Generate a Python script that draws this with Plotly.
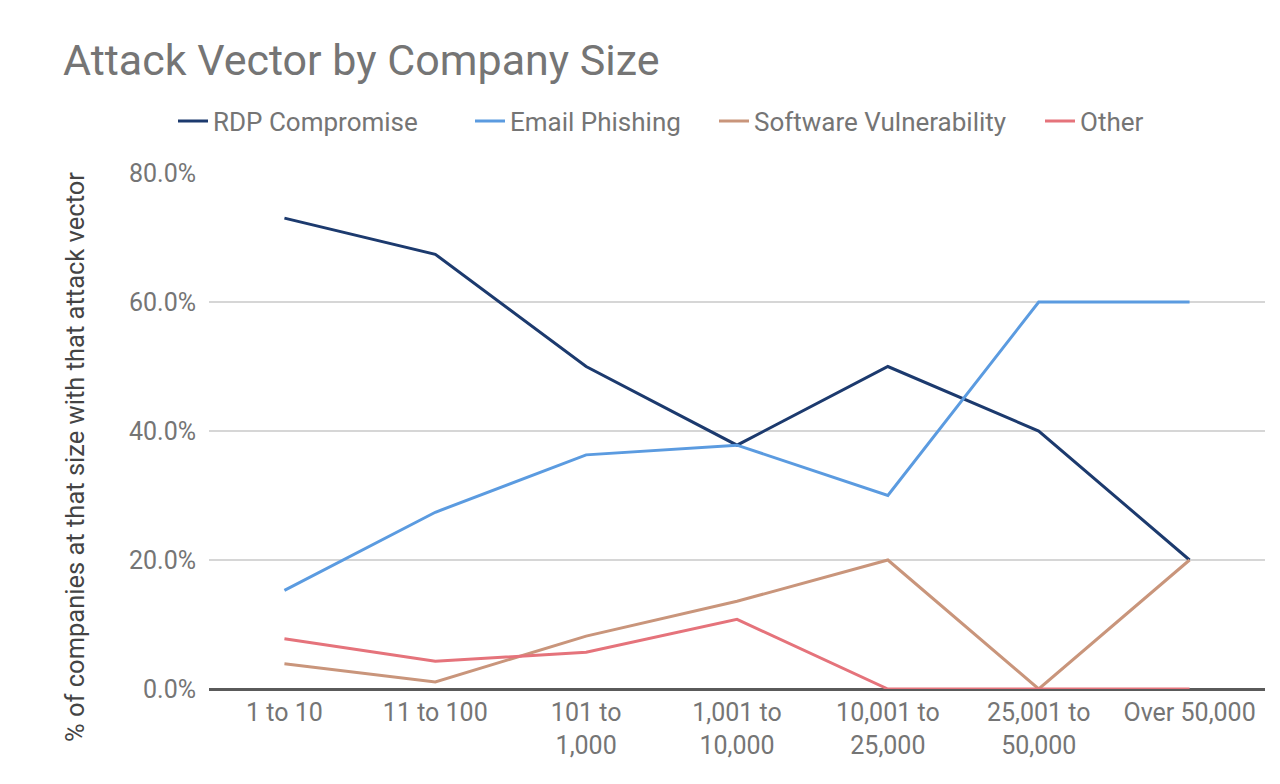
import plotly.graph_objects as go

categories = ["1 to 10", "11 to 100", "101 to<br>1,000", "1,001 to<br>10,000",
              "10,001 to<br>25,000", "25,001 to<br>50,000", "Over 50,000"]
rdp = [73.0, 67.4, 50.0, 37.8, 50.0, 40.0, 20.0]
email = [15.3, 27.4, 36.3, 37.8, 30.0, 60.0, 60.0]
software = [3.9, 1.1, 8.2, 13.6, 20.0, 0.0, 20.0]
other = [7.8, 4.3, 5.7, 10.8, 0.0, 0.0, 0.0]

series_names = ["RDP Compromise", "Email Phishing", "Software Vulnerability", "Other"]
series_values = [rdp, email, software, other]
colors = ["#1c3a6e", "#5b9be0", "#c9957b", "#e5737b"]
legend_ids = ["legend", "legend2", "legend3", "legend4"]
y_title = "% of companies at that size with that attack vector"

# page has an 8px body margin, so the figure is 16px smaller than the window
W, H = 1264, 768
OFF = 8
plot_left, plot_right, plot_top, plot_bottom = 209, 1265, 173, 689
pw = plot_right - plot_left
ph = plot_bottom - plot_top

fig = go.Figure()
for name, vals, col, lg in zip(series_names, series_values, colors, legend_ids):
    fig.add_trace(go.Scatter(x=categories, y=vals, mode="lines", name=name,
                             line=dict(color=col, width=3), legend=lg,
                             showlegend=True))

text_starts = [213, 510, 754, 1080]  # absolute px where legend text begins
legends = {}
for lg, ts in zip(legend_ids, text_starts):
    legends[lg] = dict(orientation="h", xref="container", yref="container",
                       x=(ts - 40 - OFF) / W, xanchor="left",
                       y=1 - (121 - OFF) / H, yanchor="middle",
                       bgcolor="rgba(0,0,0,0)",
                       font=dict(size=26, color="#757575", family="Roboto"),
                       itemwidth=30)

fig.update_layout(
    width=W, height=H, showlegend=True,
    paper_bgcolor="white", plot_bgcolor="white",
    margin=dict(l=plot_left - OFF, r=W + OFF - plot_right, t=plot_top - OFF,
                b=H + OFF - plot_bottom, autoexpand=False),
    font=dict(family="Roboto", color="#757575"),
    title=dict(text="Attack Vector by Company Size", x=(63 - OFF) / W, xanchor="left",
               y=1 - (60 - OFF) / H, yanchor="middle",
               font=dict(size=43, color="#757575", family="Roboto")),
    xaxis=dict(type="category", range=[-0.5, 6.5], showgrid=False,
               tickfont=dict(size=25, color="#757575"), ticklabelstandoff=6,
               ticks="", showline=False, automargin=False),
    yaxis=dict(range=[0, 80], tickvals=[0, 20, 40, 60, 80],
               ticktext=["0.0%", "20.0%", "40.0%", "60.0%", "80.0%"],
               tickfont=dict(size=25, color="#757575"),
               gridcolor="#d6d6d6", gridwidth=1.5,
               zeroline=True, zerolinecolor="#5a5a5a", zerolinewidth=2.5,
               ticks="", ticklabelstandoff=12, automargin=False),
    annotations=[dict(text=y_title, textangle=-90, xref="paper", yref="paper",
                      x=(75 - plot_left) / pw, y=(plot_bottom - 457) / ph,
                      xanchor="center", yanchor="middle", showarrow=False,
                      font=dict(size=25.5, color="#444444", family="Roboto"))],
    **legends,
)

fig.write_html("out.html")
